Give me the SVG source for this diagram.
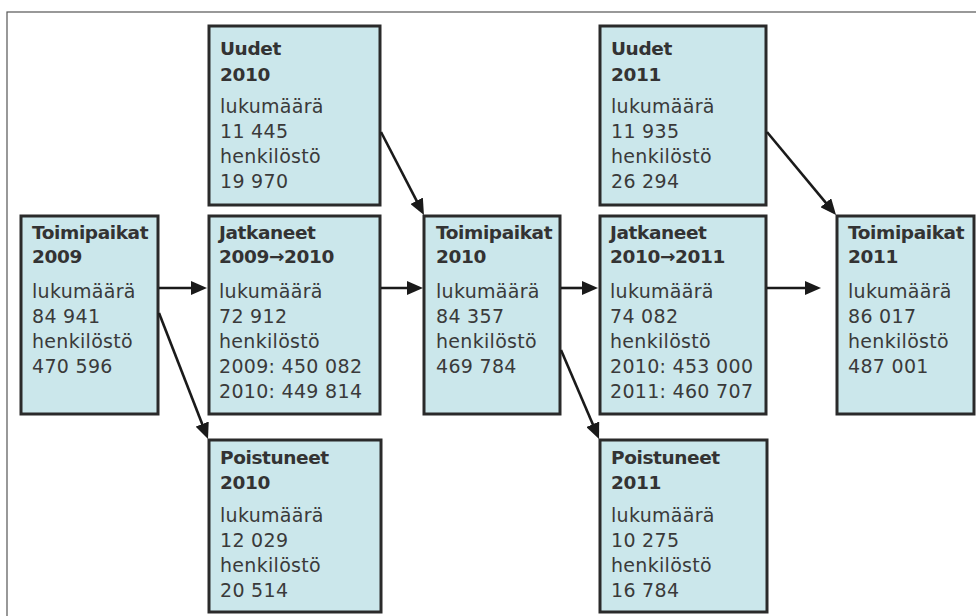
<svg xmlns="http://www.w3.org/2000/svg" width="976" height="616" viewBox="0 0 976 616">
<style>
.box{fill:#cbe7eb;stroke:#2a2a2a;stroke-width:3}
.h{font-family:"DejaVu Sans",sans-serif;font-weight:bold;font-size:18.5px;letter-spacing:-0.4px;fill:#333}
.b{font-family:"DejaVu Sans",sans-serif;font-size:19px;letter-spacing:0.3px;fill:#3a3a3a}
.c{stroke:#1a1a1a;stroke-width:2.6;fill:none;marker-end:url(#ah)}
</style>
<defs>
<marker id="ah" viewBox="0 0 16 14" refX="8" refY="7" markerWidth="16" markerHeight="14" markerUnits="userSpaceOnUse" orient="auto">
<path d="M0,0 L16,7 L0,14 z" fill="#1a1a1a"/>
</marker>
</defs>
<rect x="0" y="0" width="976" height="616" fill="#fff"/>
<rect x="7" y="12" width="1000" height="700" fill="none" stroke="#555" stroke-width="1.2"/>

<g id="toimipaikat2009">
<rect class="box" x="21" y="216" width="137" height="198"/>
<text class="h" x="32" y="239">Toimipaikat</text>
<text class="h" x="32" y="263">2009</text>
<text class="b" x="32" y="298">lukumäärä</text>
<text class="b" x="32" y="323">84 941</text>
<text class="b" x="32" y="348">henkilöstö</text>
<text class="b" x="32" y="373">470 596</text>
</g>

<g id="uudet2010">
<rect class="box" x="209" y="26" width="171" height="179"/>
<text class="h" x="220" y="55">Uudet</text>
<text class="h" x="220" y="81">2010</text>
<text class="b" x="220" y="113">lukumäärä</text>
<text class="b" x="220" y="138">11 445</text>
<text class="b" x="220" y="163">henkilöstö</text>
<text class="b" x="220" y="188">19 970</text>
</g>

<g id="jatkaneet2009_2010">
<rect class="box" x="209" y="216" width="171" height="198"/>
<text class="h" x="219" y="239">Jatkaneet</text>
<text class="h" x="219" y="263">2009→2010</text>
<text class="b" x="219" y="298">lukumäärä</text>
<text class="b" x="219" y="323">72 912</text>
<text class="b" x="219" y="348">henkilöstö</text>
<text class="b" x="219" y="373">2009: 450 082</text>
<text class="b" x="219" y="398">2010: 449 814</text>
</g>

<g id="poistuneet2010">
<rect class="box" x="209" y="440" width="172" height="172"/>
<text class="h" x="220" y="464">Poistuneet</text>
<text class="h" x="220" y="489">2010</text>
<text class="b" x="220" y="522">lukumäärä</text>
<text class="b" x="220" y="547">12 029</text>
<text class="b" x="220" y="572">henkilöstö</text>
<text class="b" x="220" y="597">20 514</text>
</g>

<g id="toimipaikat2010">
<rect class="box" x="424" y="216" width="136" height="198"/>
<text class="h" x="436" y="239">Toimipaikat</text>
<text class="h" x="436" y="263">2010</text>
<text class="b" x="436" y="298">lukumäärä</text>
<text class="b" x="436" y="323">84 357</text>
<text class="b" x="436" y="348">henkilöstö</text>
<text class="b" x="436" y="373">469 784</text>
</g>

<g id="uudet2011">
<rect class="box" x="600" y="26" width="166" height="179"/>
<text class="h" x="611" y="55">Uudet</text>
<text class="h" x="611" y="81">2011</text>
<text class="b" x="611" y="113">lukumäärä</text>
<text class="b" x="611" y="138">11 935</text>
<text class="b" x="611" y="163">henkilöstö</text>
<text class="b" x="611" y="188">26 294</text>
</g>

<g id="jatkaneet2010_2011">
<rect class="box" x="600" y="216" width="166" height="198"/>
<text class="h" x="610" y="239">Jatkaneet</text>
<text class="h" x="610" y="263">2010→2011</text>
<text class="b" x="610" y="298">lukumäärä</text>
<text class="b" x="610" y="323">74 082</text>
<text class="b" x="610" y="348">henkilöstö</text>
<text class="b" x="610" y="373">2010: 453 000</text>
<text class="b" x="610" y="398">2011: 460 707</text>
</g>

<g id="poistuneet2011">
<rect class="box" x="600" y="440" width="167" height="172"/>
<text class="h" x="611" y="464">Poistuneet</text>
<text class="h" x="611" y="489">2011</text>
<text class="b" x="611" y="522">lukumäärä</text>
<text class="b" x="611" y="547">10 275</text>
<text class="b" x="611" y="572">henkilöstö</text>
<text class="b" x="611" y="597">16 784</text>
</g>

<g id="toimipaikat2011">
<rect class="box" x="837" y="216" width="137" height="198"/>
<text class="h" x="848" y="239">Toimipaikat</text>
<text class="h" x="848" y="263">2011</text>
<text class="b" x="848" y="298">lukumäärä</text>
<text class="b" x="848" y="323">86 017</text>
<text class="b" x="848" y="348">henkilöstö</text>
<text class="b" x="848" y="373">487 001</text>
</g>

<g id="connectors">
<line class="c" x1="159" y1="288" x2="199" y2="288"/>
<line class="c" x1="381" y1="288" x2="415" y2="288"/>
<line class="c" x1="561" y1="288" x2="590" y2="288"/>
<line class="c" x1="767" y1="288" x2="813" y2="288"/>
<line class="c" x1="159" y1="313" x2="205.1" y2="431.5"/>
<line class="c" x1="381" y1="132" x2="420.3" y2="207.9"/>
<line class="c" x1="561" y1="350" x2="595.9" y2="431.6"/>
<line class="c" x1="767" y1="132" x2="830.9" y2="208.8"/>
</g>
</svg>
